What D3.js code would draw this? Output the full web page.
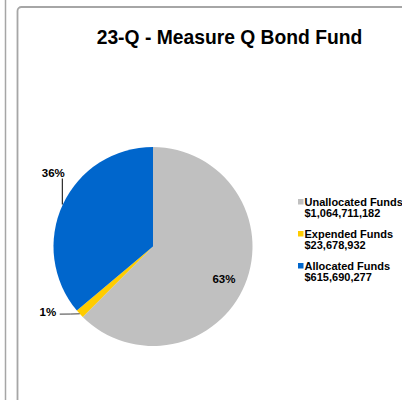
<!DOCTYPE html>
<html>
<head>
<meta charset="utf-8">
<script src="https://cdn.jsdelivr.net/npm/d3@7"></script>
<style>
  body { margin: 0; background: #fff; }
  text { font-family: "Liberation Sans", Arial, sans-serif; font-weight: bold; fill: #000; }
</style>
</head>
<body>
<script>
// data
const categories = ["Unallocated Funds", "Expended Funds", "Allocated Funds"];
const amounts = [1064711182, 23678932, 615690277];
const amountLabels = ["$1,064,711,182", "$23,678,932", "$615,690,277"];
const pctLabels = ["63%", "1%", "36%"];
const colors = ["#c0c0c0", "#ffcc00", "#0066cc"];

const width = 402, height = 400;
const cx = 153, cy = 246.5, radius = 99.5;

const svg = d3.select("body").append("svg")
    .attr("width", width)
    .attr("height", height);

// frames
svg.append("line")
    .attr("x1", 5.5).attr("x2", 5.5).attr("y1", 0).attr("y2", height)
    .attr("stroke", "#a6a6a6").attr("stroke-width", 1.5);
svg.append("rect")
    .attr("x", 17.5).attr("y", 7)
    .attr("width", 420).attr("height", 420)
    .attr("rx", 4)
    .attr("fill", "#fff")
    .attr("stroke", "#a6a6a6").attr("stroke-width", 1.8);

// title
svg.append("text")
    .attr("x", 229.5).attr("y", 44)
    .attr("text-anchor", "middle")
    .style("font-size", "19.3px")
    .text("23-Q - Measure Q Bond Fund");

const data = categories.map((c, i) => ({ name: c, value: amounts[i], amt: amountLabels[i], pct: pctLabels[i], color: colors[i] }));

const pie = d3.pie().sort(null).value(d => d.value);
const arcs = pie(data);
const arc = d3.arc().innerRadius(0).outerRadius(radius);

const g = svg.append("g").attr("transform", `translate(${cx},${cy})`);

g.selectAll("path")
    .data(arcs)
    .join("path")
    .attr("d", arc)
    .attr("fill", d => d.data.color);

// point on the rim at slice middle
function rim(d, r) {
    const a = (d.startAngle + d.endAngle) / 2;
    return [r * Math.sin(a), -r * Math.cos(a)];
}

// 63% inside
const p0 = rim(arcs[0], radius * 0.75);
g.append("text")
    .attr("x", p0[0] + 2).attr("y", p0[1] + 8)
    .attr("text-anchor", "middle")
    .style("font-size", "11.5px")
    .text(arcs[0].data.pct);

// 1% with leader to the left
const p1 = rim(arcs[1], radius);
g.append("path")
    .attr("d", `M${p1[0]},${p1[1]} Q${p1[0] - 8},${p1[1] + 0.3} ${p1[0] - 20},${p1[1] + 0.3}`)
    .attr("fill", "none").attr("stroke", "#404040").attr("stroke-width", 1);
g.append("text")
    .attr("x", p1[0] - 23.5).attr("y", p1[1] + 2.3)
    .attr("text-anchor", "end")
    .style("font-size", "11.5px")
    .text(arcs[1].data.pct);

// 36% with leader going up
const p2 = rim(arcs[2], radius);
g.append("line")
    .attr("x1", p2[0] - 0.5).attr("y1", p2[1])
    .attr("x2", p2[0] - 0.5).attr("y2", p2[1] - 26)
    .attr("stroke", "#000").attr("stroke-width", 1);
g.append("text")
    .attr("x", p2[0] - 9.5).attr("y", p2[1] - 27.5)
    .attr("text-anchor", "middle")
    .style("font-size", "11.5px")
    .text(arcs[2].data.pct);

// legend
const legend = svg.append("g").attr("transform", "translate(298,198)");
const item = legend.selectAll("g")
    .data(data)
    .join("g")
    .attr("transform", (d, i) => `translate(0,${i * 32})`);
item.append("rect")
    .attr("x", 0).attr("y", 1)
    .attr("width", 5.5).attr("height", 5.5)
    .attr("fill", d => d.color);
item.append("text")
    .attr("x", 6.5).attr("y", 7.5)
    .style("font-size", "11px")
    .text(d => d.name);
item.append("text")
    .attr("x", 6.5).attr("y", 18.5)
    .style("font-size", "11px")
    .text(d => d.amt);
</script>
</body>
</html>
